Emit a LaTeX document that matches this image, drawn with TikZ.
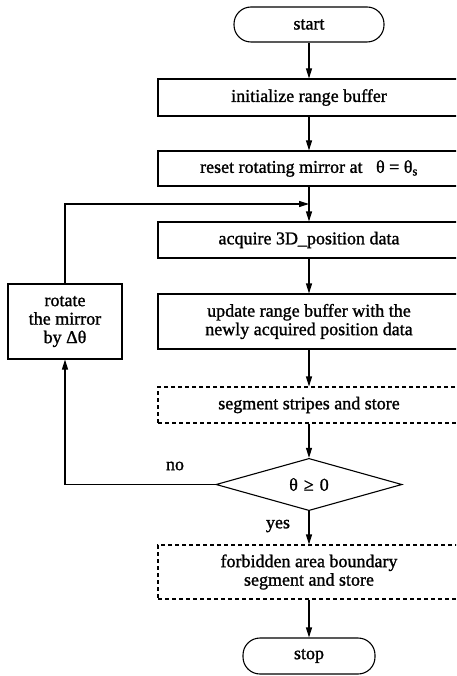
\documentclass[tikz,border=0pt]{standalone}
\usepackage{fontspec}
\setmainfont{Liberation Serif}[BoldFont=Liberation Serif,BoldFeatures={FakeBold=1.3}]
\usetikzlibrary{shapes.geometric,arrows.meta,calc}
\begin{document}
\begin{tikzpicture}[x=1pt,y=-1pt,
 every node/.style={font=\fontsize{18}{18.5}\selectfont\bfseries},
 box/.style={draw,line width=1.1pt,minimum width=302pt,align=center,inner sep=0pt},
 dbox/.style={box,dash pattern=on 4pt off 3pt},
 term/.style={draw,line width=1.1pt,rounded corners=17pt,inner sep=0pt},
 dec/.style={draw,diamond,line width=1.1pt,inner sep=0pt,minimum width=186pt,minimum height=51pt},
 arr/.style={line width=1.1pt,-{Triangle[length=10pt,width=6pt]}},
 lbl/.style={inner sep=0pt}]
\clip (0,0) rectangle (456,676);
\node[term,minimum width=150pt,minimum height=35pt] (start) at (309,24.5) {start};
\node[box,minimum height=37pt] (init) at (309,97.5) {initialize range buffer};
\node[box,minimum height=35pt] (reset) at (309,168.5) {reset rotating mirror at\enspace\ θ = θ\textsubscript{s}};
\node[box,minimum height=36pt] (acq) at (309,240) {acquire 3D\_position data};
\node[box,minimum height=55pt] (upd) at (309,321.5) {update range buffer with the\\newly acquired position data};
\node[dbox,minimum height=36pt] (seg) at (309,405) {segment stripes and store};
\node[dec] (dec) at (309,484.5) {θ\,\,≥\,\,0};
\node[dbox,minimum height=54pt] (forb) at (309,572) {forbidden area boundary\\segment and store};
\node[term,minimum width=132pt,minimum height=36pt] (stop) at (309,656) {stop};
\node[box,minimum width=114pt,minimum height=75pt] (rot) at (65,321.5) {rotate\\the mirror\\by Δθ};
\node[lbl] (no) at (175,466) {no};
\node[lbl] (yes) at (278,526) {yes};
\coordinate (j) at ($(reset.south)!0.5!(acq.north)$);
\draw[arr] (start) -- (init);
\draw[arr] (init) -- (reset);
\draw[arr] (reset) -- (acq);
\draw[arr] (rot.north) |- (j);
\draw[arr] (acq) -- (upd);
\draw[arr] (upd) -- (seg);
\draw[arr] (seg) -- (dec);
\draw[arr] (dec.west) -| (rot.south);
\draw[arr] (dec) -- (forb);
\draw[arr] (forb) -- (stop);
\end{tikzpicture}
\end{document}
